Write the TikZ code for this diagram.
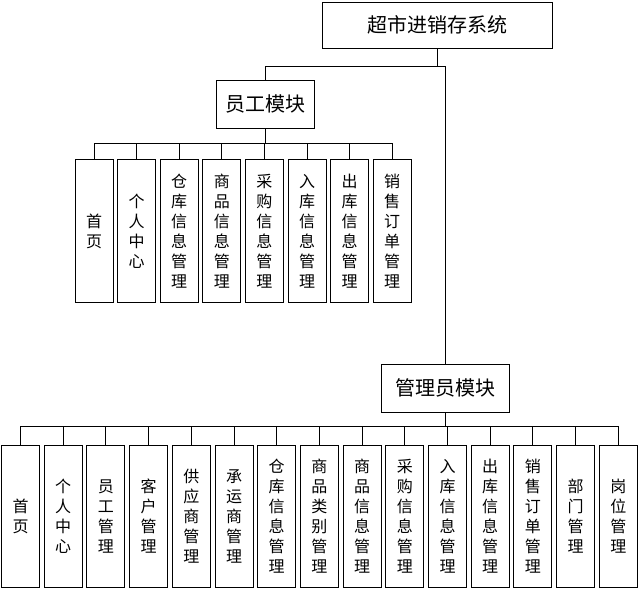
\documentclass[tikz,border=0pt]{standalone}
\usepackage{fontspec}
\newfontfamily\cjk{Noto Sans CJK SC}
\begin{document}
\begin{tikzpicture}[x=0.75pt, y=-0.75pt, line width=0.75pt,
    box/.style={draw, line width=0.75pt, inner sep=0pt, align=center},
    module/.style={box, minimum height=36pt, font=\fontsize{15}{17}\cjk},
    leaf/.style={box, minimum width=28.5pt, minimum height=107pt, font=\fontsize{12}{15}\cjk}]
    \useasboundingbox (0,0) rectangle (639,589);

    % 系统与模块
    \node[module, minimum width=172.5pt, minimum height=34.5pt] (sys) at (437,25) {超市进销存系统};
    \node[module, minimum width=73.5pt] (emp) at (265,104) {员工模块};
    \node[module, minimum width=96pt] (adm) at (445,388) {管理员模块};

    % 总线
    \coordinate (b0) at (445,66);
    \coordinate (b1) at (0,143);
    \coordinate (b2) at (0,426);
    \draw (sys.south) -- (sys.south |- b0);
    \draw (emp.north) |- (b0) -- (adm.north);

    % 员工模块功能
    \foreach \lbl [count=\i] in {首\\页, 个\\人\\中\\心, 仓\\库\\信\\息\\管\\理, 商\\品\\信\\息\\管\\理,
        采\\购\\信\\息\\管\\理, 入\\库\\信\\息\\管\\理, 出\\库\\信\\息\\管\\理, 销\\售\\订\\单\\管\\理} {
        \node[leaf] (e\i) at ({94+42.6*(\i-1)},231) {\lbl};
        \draw (emp.south) |- (e\i.north |- b1) -- (e\i.north);
    }

    % 管理员模块功能
    \foreach \lbl [count=\i] in {首\\页, 个\\人\\中\\心, 员\\工\\管\\理, 客\\户\\管\\理, 供\\应\\商\\管\\理,
        承\\运\\商\\管\\理, 仓\\库\\信\\息\\管\\理, 商\\品\\类\\别\\管\\理, 商\\品\\信\\息\\管\\理,
        采\\购\\信\\息\\管\\理, 入\\库\\信\\息\\管\\理, 出\\库\\信\\息\\管\\理, 销\\售\\订\\单\\管\\理,
        部\\门\\管\\理, 岗\\位\\管\\理} {
        \node[leaf] (a\i) at ({20.5+42.7*(\i-1)},516.5) {\lbl};
        \draw (adm.south) |- (a\i.north |- b2) -- (a\i.north);
    }
\end{tikzpicture}
\end{document}
